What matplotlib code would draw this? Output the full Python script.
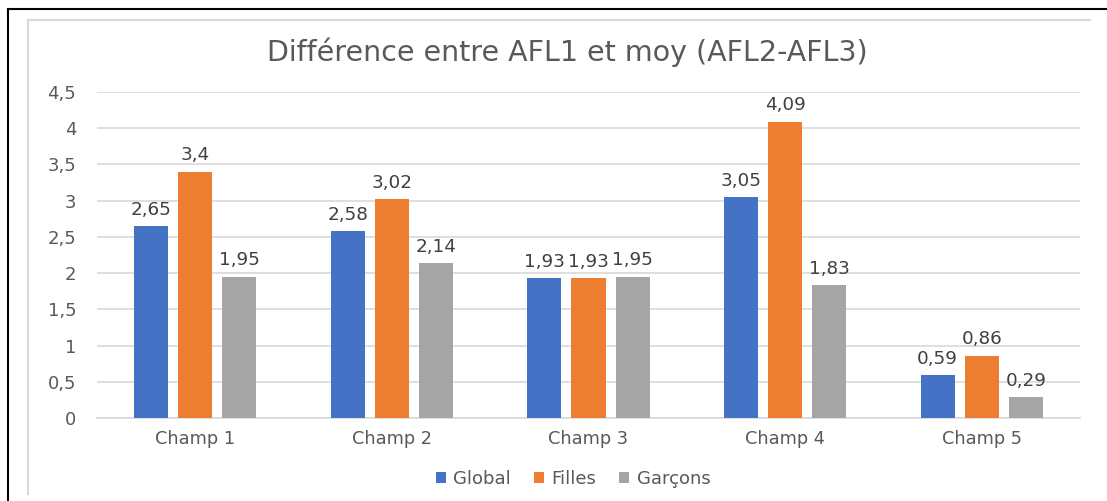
import matplotlib.pyplot as plt
import numpy as np
from matplotlib.lines import Line2D

plt.rcParams['font.family'] = ['DejaVu Sans']

champs = ['Champ 1', 'Champ 2', 'Champ 3', 'Champ 4', 'Champ 5']
global_vals = [2.65, 2.58, 1.93, 3.05, 0.59]
filles = [3.4, 3.02, 1.93, 4.09, 0.86]
garcons = [1.95, 2.14, 1.95, 1.83, 0.29]
series = ['Global', 'Filles', 'Garçons']
couleurs = ['#4472C4', '#ED7D31', '#A5A5A5']
yticks = [0, 0.5, 1, 1.5, 2, 2.5, 3, 3.5, 4, 4.5]

fig = plt.figure(figsize=(11.07, 5.01), dpi=100)
ax = fig.add_axes([97/1107, 1 - 418/501, (1080-97)/1107, (418-92)/501])

x = np.arange(len(champs))
w = 0.173
pas = 0.224
txt = '#595959'
for i, (vals, nom, c) in enumerate(zip([global_vals, filles, garcons], series, couleurs)):
    pos = x + (i - 1) * pas
    ax.bar(pos, vals, width=w, color=c, label=nom, zorder=3)
    for xx, v in zip(pos, vals):
        ax.text(xx, v + 0.1, ('%g' % v).replace('.', ','), ha='center', va='bottom',
                fontsize=13.2, color='#404040')

ax.set_xlim(-0.5, 4.5)
ax.set_ylim(0, 4.5)
ax.set_yticks(yticks)
ax.set_yticklabels([('%g' % t).replace('.', ',') for t in yticks], color=txt, fontsize=13)
ax.set_xticks(x)
ax.set_xticklabels(champs, color=txt, fontsize=12.8)
ax.tick_params(length=0)
ax.tick_params(axis='x', pad=9)
ax.tick_params(axis='y', pad=15)
ax.grid(axis='y', color='#D9D9D9', lw=1.2, zorder=0)
for s in ['top', 'right', 'left']:
    ax.spines[s].set_visible(False)
ax.spines['bottom'].set_color('#D9D9D9')
ax.spines['bottom'].set_linewidth(1.2)

fig.text(567/1107, 1 - 52/501, 'Différence entre AFL1 et moy (AFL2-AFL3)', ha='center', va='center',
         fontsize=20.5, color=txt)

leg = fig.legend(loc='center', bbox_to_anchor=(573/1107, 1 - 479/501), ncol=3, frameon=False,
                 fontsize=13, handlelength=0.55, handleheight=0.55, handletextpad=0.4, columnspacing=1.3)
for t in leg.get_texts():
    t.set_color(txt)

# cadres
fig.add_artist(Line2D([8/1107, 1], [1 - 8.5/501, 1 - 8.5/501], color='black', lw=1.5))
fig.add_artist(Line2D([8/1107, 8/1107], [0, 1 - 8.5/501], color='black', lw=1.5))
fig.add_artist(Line2D([28/1107, 1090/1107], [1 - 20/501, 1 - 20/501], color='#D9D9D9', lw=1.5))
fig.add_artist(Line2D([28/1107, 28/1107], [1 - 494/501, 1 - 20/501], color='#D9D9D9', lw=1.5))

fig.savefig('out.png', dpi=100)
